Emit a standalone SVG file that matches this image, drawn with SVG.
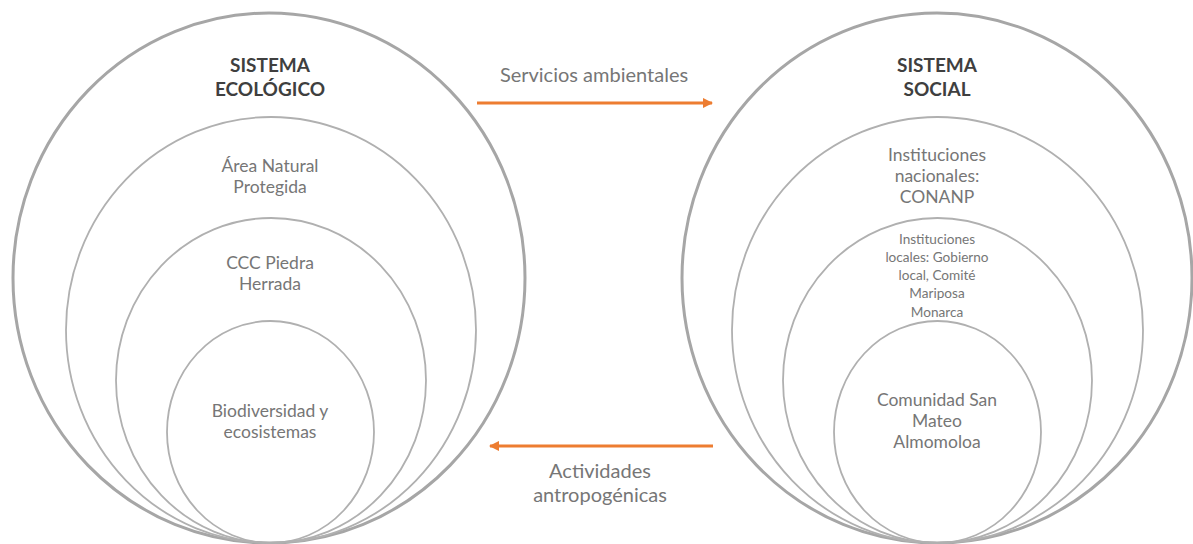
<svg xmlns="http://www.w3.org/2000/svg" width="1193" height="544" viewBox="0 0 1193 544">
<defs>
<style>
.outer{fill:none;stroke:#a6a6a6;stroke-width:3}
.ring{fill:none;stroke:#b0b0b0;stroke-width:1.8}
.head{font-family:Lato,"Open Sans",sans-serif;font-weight:bold;font-size:19px;fill:#3f3f3f;text-anchor:middle}
.lbl{font-family:Lato,"Open Sans",sans-serif;font-size:17.5px;fill:#767676;text-anchor:middle}
.sm{font-family:Lato,"Open Sans",sans-serif;font-size:13.6px;fill:#767676;text-anchor:middle}
.arr{font-family:Lato,"Open Sans",sans-serif;font-size:20px;fill:#767676;text-anchor:middle}
.conn{stroke:#ed7d31;stroke-width:3;fill:none}
</style>
<marker id="ah" viewBox="0 0 10 10" refX="9" refY="5" markerWidth="3.5" markerHeight="3.5" orient="auto">
<path d="M0,0 L10,5 L0,10 z" fill="#ed7d31"/>
</marker>
</defs>
<rect width="1193" height="544" fill="#ffffff"/>
<g id="sistema-ecologico">
<ellipse class="outer" cx="269" cy="278" rx="256" ry="265"/>
<text class="head" x="270" y="72">SISTEMA</text>
<text class="head" x="270" y="96">ECOLÓGICO</text>
</g>
<g id="area-natural">
<ellipse class="ring" cx="271" cy="330" rx="205" ry="213"/>
<text class="lbl" x="270" y="172">Área Natural</text>
<text class="lbl" x="270" y="193">Protegida</text>
</g>
<g id="ccc-piedra">
<ellipse class="ring" cx="271" cy="380.5" rx="155" ry="162.5"/>
<text class="lbl" x="270" y="269">CCC Piedra</text>
<text class="lbl" x="270" y="290">Herrada</text>
</g>
<g id="biodiversidad">
<ellipse class="ring" cx="270.5" cy="432" rx="103.5" ry="111"/>
<text class="lbl" x="270" y="417">Biodiversidad y</text>
<text class="lbl" x="270" y="438">ecosistemas</text>
</g>
<g id="sistema-social">
<ellipse class="outer" cx="937" cy="278" rx="255" ry="265"/>
<text class="head" x="937" y="72">SISTEMA</text>
<text class="head" x="937" y="96">SOCIAL</text>
</g>
<g id="inst-nacionales">
<ellipse class="ring" cx="937.5" cy="330" rx="205.5" ry="213"/>
<text class="lbl" x="937" y="161">Instituciones</text>
<text class="lbl" x="937" y="182">nacionales:</text>
<text class="lbl" x="937" y="203">CONANP</text>
</g>
<g id="inst-locales">
<ellipse class="ring" cx="937.5" cy="380.5" rx="154.5" ry="162.5"/>
<text class="sm" x="937" y="244">Instituciones</text>
<text class="sm" x="937" y="262">locales: Gobierno</text>
<text class="sm" x="937" y="280">local, Comité</text>
<text class="sm" x="937" y="298">Mariposa</text>
<text class="sm" x="937" y="317">Monarca</text>
</g>
<g id="comunidad">
<ellipse class="ring" cx="937.5" cy="432" rx="103.5" ry="111"/>
<text class="lbl" x="937" y="406">Comunidad San</text>
<text class="lbl" x="937" y="427">Mateo</text>
<text class="lbl" x="937" y="448">Almomoloa</text>
</g>
<g id="connectors">
<line class="conn" x1="477" y1="103" x2="712" y2="103" marker-end="url(#ah)"/>
<text class="arr" x="594" y="82">Servicios ambientales</text>
<line class="conn" x1="713" y1="446" x2="490" y2="446" marker-end="url(#ah)"/>
<text class="arr" x="600" y="478">Actividades</text>
<text class="arr" x="600" y="502">antropogénicas</text>
</g>
</svg>
